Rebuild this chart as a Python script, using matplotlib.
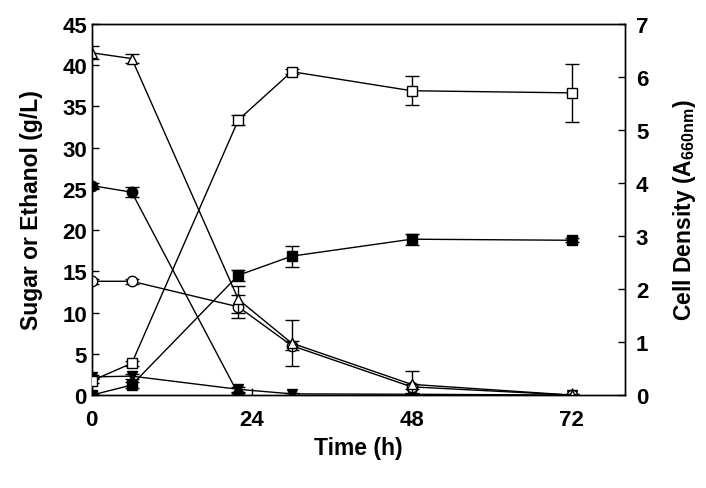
import matplotlib
matplotlib.use("Agg")
import matplotlib.pyplot as plt
import numpy as np

plt.rcParams['font.family'] = ['Liberation Sans', 'DejaVu Sans']
plt.rcParams['font.weight'] = 'bold'
plt.rcParams['mathtext.fontset'] = 'custom'
plt.rcParams['mathtext.bf'] = 'Liberation Sans:bold'
plt.rcParams['mathtext.rm'] = 'Liberation Sans:bold'
plt.rcParams['mathtext.default'] = 'bf'

time = [0, 6, 22, 30, 48, 72]

# Left axis (g/L)
open_tri = [41.5, 40.8, 11.6, 6.3, 1.3, 0.0]
open_tri_err = [0.8, 0.5, 1.6, 2.8, 1.6, 0.1]
open_circ = [13.8, 13.8, 10.7, 6.0, 1.0, 0.0]
open_circ_err = [0.3, 0.3, 1.4, 0.5, 0.3, 0.1]
fill_circ_t = [0, 6, 22]
fill_circ = [25.4, 24.6, 0.1]
fill_circ_err = [0.3, 0.6, 0.2]
fill_dtri = [2.2, 2.3, 0.7, 0.15, 0.1, 0.0]
fill_dtri_err = [0.2, 0.3, 0.3, 0.1, 0.1, 0.05]

# Right axis (A660)
open_sq = [0.27, 0.60, 5.19, 6.10, 5.74, 5.70]
open_sq_err = [0.05, 0.05, 0.10, 0.05, 0.27, 0.55]
fill_sq = [0.0, 0.19, 2.26, 2.62, 2.94, 2.92]
fill_sq_err = [0.02, 0.06, 0.10, 0.20, 0.10, 0.04]

fig = plt.figure(figsize=(7.06, 4.89), dpi=100)
ax = fig.add_axes([0.130, 0.190, 0.755, 0.759])
ax2 = ax.twinx()

common = dict(color='black', lw=1.0, capsize=5, elinewidth=1.0, capthick=1.0, ms=7.5, mec='black', mew=1.0)
ax.errorbar(time, fill_dtri, yerr=fill_dtri_err, marker='v', mfc='black', zorder=2, **common)
ax.errorbar(fill_circ_t, fill_circ, yerr=fill_circ_err, marker='o', mfc='black', zorder=3, **common)
ax.errorbar(time, open_circ, yerr=open_circ_err, marker='o', mfc='white', zorder=3, **common)
ax.errorbar(time, open_tri, yerr=open_tri_err, marker='^', mfc='white', zorder=4, **common)

ax2.errorbar(time, open_sq, yerr=open_sq_err, marker='s', mfc='white', zorder=3, **common)
ax2.errorbar(time, fill_sq, yerr=fill_sq_err, marker='s', mfc='black', zorder=3, **common)

ax.set_xlim(0, 80)
ax.set_ylim(0, 45)
ax2.set_ylim(0, 7)
ax.set_xticks([0, 24, 48, 72])
ax.set_yticks(np.arange(0, 46, 5))
ax2.set_yticks(np.arange(0, 8, 1))

for a in (ax, ax2):
    a.tick_params(direction='in', length=5, width=1, labelsize=16)
    for s in a.spines.values():
        s.set_linewidth(1.0)
ax.tick_params(axis='x', pad=10)
ax2.tick_params(axis='y', pad=8)

ax.set_xlabel('Time (h)', fontsize=16.5, fontweight='bold', labelpad=4)
ax.set_ylabel('Sugar or Ethanol (g/L)', fontsize=16.5, fontweight='bold', labelpad=14)
ax2.set_ylabel('Cell Density (A$_{660nm}$)', fontsize=16.5, fontweight='bold', labelpad=16)

fig.savefig('out.png', dpi=100)
